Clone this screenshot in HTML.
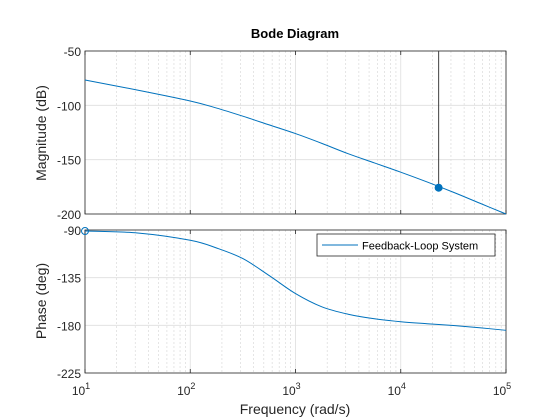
<!DOCTYPE html>
<html><head><meta charset="utf-8"><style>
body{margin:0;background:#fff;}
svg{display:block;font-family:"Liberation Sans",sans-serif;}
</style></head><body>
<svg id="chart" width="560" height="420">
<rect width="560" height="420" fill="#fff"/>
<text x="295" y="38" text-anchor="middle" font-size="13" font-weight="bold" fill="#000">Bode Diagram</text>
<text x="295" y="414" text-anchor="middle" font-size="14" fill="#262626">Frequency  (rad/s)</text>
<text transform="translate(46,133) rotate(-90)" text-anchor="middle" font-size="14" fill="#262626">Magnitude (dB)</text>
<text transform="translate(46,301) rotate(-90)" text-anchor="middle" font-size="14" fill="#262626">Phase (deg)</text>
<g id="g"></g>
</svg>
<script>
const freqLog = [1, 1.5, 2, 2.25, 2.5, 2.75, 3, 3.25, 3.5, 3.75, 4, 4.25, 4.5, 4.75, 5];
const magnitudeDb = [-76.7, -86, -96, -102.5, -110, -118, -126, -135, -144.5, -153, -161.5, -170.5, -180, -190, -200];
const phaseDeg = [-91, -92.8, -99.7, -107, -117, -133, -150, -162.5, -169.5, -173.8, -176.6, -178.5, -180.2, -182.3, -184.7];
const markerLog = [4.36];
const markerMag = [-175.8];
const magTicks = [-50, -100, -150, -200];
const phaseTicks = [-90, -135, -180, -225];
const xTicks = [1, 2, 3, 4, 5];

const NS = "http://www.w3.org/2000/svg";
const g = document.getElementById('g');
const X0 = 85, X1 = 506;
const xs = l => X0 + (l - 1) / 4 * (X1 - X0);
const magY = v => 51 + (-50 - v) / 150 * (214 - 51);
const phY = v => 230 + (-90 - v) / 135 * (373 - 230);
function mk(t, a, p) { const e = document.createElementNS(NS, t); for (const k in a) e.setAttribute(k, a[k]); (p || g).appendChild(e); return e; }
function smooth(pts) {
  let d = 'M' + pts[0][0] + ',' + pts[0][1];
  for (let i = 0; i < pts.length - 1; i++) {
    const p0 = pts[Math.max(0, i - 1)], p1 = pts[i], p2 = pts[i + 1], p3 = pts[Math.min(pts.length - 1, i + 2)];
    const c1x = p1[0] + (p2[0] - p0[0]) / 6, c1y = p1[1] + (p2[1] - p0[1]) / 6;
    const c2x = p2[0] - (p3[0] - p1[0]) / 6, c2y = p2[1] - (p3[1] - p1[1]) / 6;
    d += 'C' + c1x + ',' + c1y + ' ' + c2x + ',' + c2y + ' ' + p2[0] + ',' + p2[1];
  }
  return d;
}

function panel(top, bot, ticks, yf, name) {
  const pg = mk('g', {});
  
  
  mk('rect', { x: X0, y: top, width: X1 - X0, height: bot - top, fill: '#fff' }, pg);
  for (let d = 1; d < 5; d++) for (let m = 2; m <= 9; m++) {
    const x = xs(d + Math.log10(m));
    mk('line', { x1: x, x2: x, y1: top, y2: bot, stroke: '#d4d4d4', 'stroke-width': 0.6, 'stroke-dasharray': '2,2' }, pg);
  }
  xTicks.forEach(l => { const x = xs(l); mk('line', { x1: x, x2: x, y1: top, y2: bot, stroke: '#dedede', 'stroke-width': 0.8 }, pg); });
  ticks.forEach(v => {
    const y = yf(v);
    mk('line', { x1: X0, x2: X1, y1: y, y2: y, stroke: '#dedede', 'stroke-width': 0.8 }, pg);
    const t = mk('text', { x: X0 - 4, y: y + 5, 'text-anchor': 'end', 'font-size': 12, fill: '#262626' }, pg);
    t.textContent = v;
    
    
  });
  xTicks.forEach(l => { const x = xs(l);
    mk('line', { x1: x, x2: x, y1: bot, y2: bot - 4, stroke: '#262626', 'stroke-width': 0.8 }, pg);
    mk('line', { x1: x, x2: x, y1: top, y2: top + 4, stroke: '#262626', 'stroke-width': 0.8 }, pg);
  });
  mk('rect', { x: X0, y: top, width: X1 - X0, height: bot - top, fill: 'none', stroke: '#262626', 'stroke-width': 0.8 }, pg);
  return pg;
}
panel(51, 214, magTicks, magY, 'magnitude');
panel(230, 373, phaseTicks, phY, 'phase');

xTicks.forEach(l => {
  const t = mk('text', { x: xs(l) - 4, y: 395, 'text-anchor': 'middle', 'font-size': 12, fill: '#262626' });
  t.innerHTML = '10<tspan dy="-6" font-size="9">' + l + '</tspan>';
  
  
});

const mp = mk('path', { d: smooth(freqLog.map((l, i) => [xs(l), magY(magnitudeDb[i])])), fill: 'none', stroke: '#0072bd', 'stroke-width': 1 });


const pp = mk('path', { d: smooth(freqLog.map((l, i) => [xs(l), phY(phaseDeg[i])])), fill: 'none', stroke: '#0072bd', 'stroke-width': 1 });



markerLog.forEach((l, i) => {
  const x = xs(l), y = magY(markerMag[i]);
  const vl = mk('line', { x1: x, x2: x, y1: 51, y2: y, stroke: '#404040', 'stroke-width': 1 });
  
  
  const c = mk('circle', { cx: x, cy: y, r: 4, fill: '#0072bd' });
  
  
});
const oc = mk('circle', { cx: xs(freqLog[0]), cy: phY(phaseDeg[0]), r: 3.5, fill: 'none', stroke: '#0072bd', 'stroke-width': 1 });



const lg = mk('g', {});


mk('rect', { x: 317, y: 234, width: 178, height: 22, fill: '#fff', stroke: '#262626', 'stroke-width': 0.8 }, lg);
mk('line', { x1: 322, x2: 358, y1: 245, y2: 245, stroke: '#0072bd', 'stroke-width': 1 }, lg);
const lt = mk('text', { x: 362, y: 249.5, 'font-size': 11, fill: '#000' }, lg);
lt.textContent = 'Feedback-Loop System';


</script>
</body></html>
